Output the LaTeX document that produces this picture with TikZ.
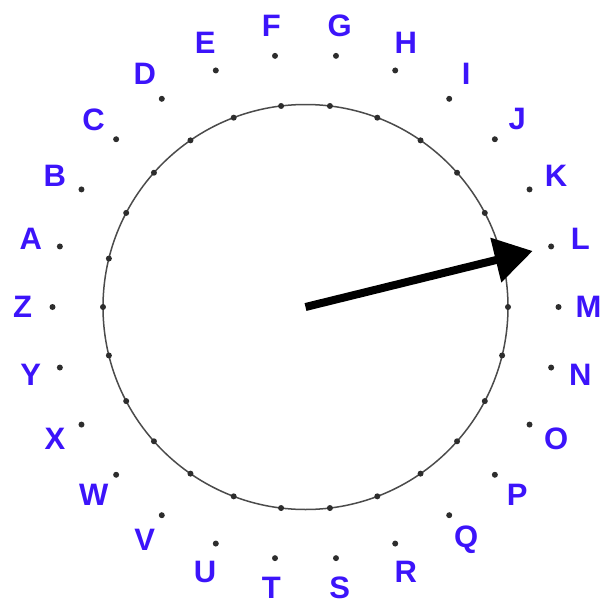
\documentclass[tikz,border=0pt]{standalone}
\usepackage{fontspec}
\setmainfont{Liberation Sans}
\usetikzlibrary{arrows.meta}
\definecolor{letterblue}{RGB}{60,20,250}
\definecolor{ringgray}{RGB}{75,75,75}
\definecolor{dotgray}{RGB}{45,45,45}
\begin{document}
\begin{tikzpicture}[x=1pt,y=1pt,
  letter/.style={text=letterblue,font=\fontsize{31}{31}\selectfont\bfseries,inner sep=0pt},
  ringdot/.style={circle,fill=dotgray,inner sep=0pt,minimum size=6pt},
  ring/.style={draw=ringgray,line width=1.5pt},
  pointer/.style={line width=8pt,-{Triangle[length=38pt,width=44pt]}}]
\useasboundingbox (0,0) rectangle (602,-608);
\coordinate (c) at (305.5,-307);
\draw[ring] (c) circle (202.5);
\foreach \L [count=\k] in {A,B,C,D,E,F,G,H,I,J,K,L,M,N,O,P,Q,R,S,T,U,V,W,X,Y,Z} {
  \pgfmathsetmacro\ang{180-\k*360/26}
  \node[ringdot] (in\L) at ([shift={(\ang:202.5)}]c) {};
  \node[ringdot] (out\L) at ([shift={(\ang:253)}]c) {};
  \node[letter] (lab\L) at ([shift={(\ang:283)}]c) {\L};
}
\coordinate (tip) at ([shift={(13.85:234)}]c);
\draw[pointer] (c) -- (tip);
\end{tikzpicture}
\end{document}
